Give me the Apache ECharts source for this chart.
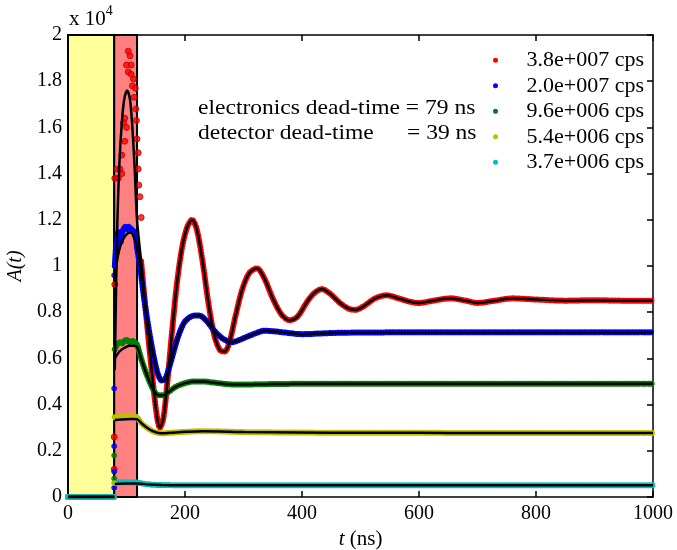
<!DOCTYPE html>
<html>
<head>
<meta charset="utf-8">
<script src="https://cdn.jsdelivr.net/npm/echarts/dist/echarts.min.js"></script>
<style>
  html, body { margin: 0; padding: 0; background: #fff; }
  #main { width: 677px; height: 550px; }
</style>
</head>
<body>
<div id="main"></div>
<script>
// series names (count rates)
var names = ['3.8e+007 cps', '2.0e+007 cps', '9.6e+006 cps', '5.4e+006 cps', '3.7e+006 cps'];
var colors = ['#ff0000', '#0000ff', '#008000', '#bfbf00', '#00bfbf'];

// fitted curves, [t (ns), A (x10^4)]
var redFit = [[0,0],[79,0],[80,0.55],[84,1.15],[88,1.45],[92,1.62],[96,1.72],[101,1.76],[106,1.72],[110,1.6],[114,1.42],[118,1.2],[125,1.02],[135,0.75],[145,0.5],[152,0.35],[157,0.30],[163,0.34],[170,0.5],[178,0.72],[186,0.92],[195,1.08],[204,1.17],[212,1.2],[220,1.16],[230,1.02],[240,0.84],[250,0.70],[260,0.635],[268,0.63],[276,0.67],[286,0.78],[298,0.9],[310,0.97],[323,0.99],[335,0.95],[350,0.86],[365,0.79],[379,0.765],[392,0.78],[410,0.85],[422,0.885],[434,0.90],[448,0.88],[465,0.84],[480,0.815],[491,0.81],[505,0.825],[525,0.86],[545,0.873],[565,0.86],[585,0.845],[600,0.84],[625,0.85],[653,0.86],[680,0.85],[700,0.84],[730,0.85],[760,0.86],[800,0.855],[850,0.85],[900,0.852],[950,0.85],[1000,0.85]];
var blueFit = [[0,0],[79,0],[80,0.95],[85,1.04],[90,1.09],[95,1.12],[101,1.14],[107,1.145],[112,1.13],[118,1.08],[124,0.98],[130,0.86],[136,0.76],[142,0.67],[148,0.59],[154,0.53],[160,0.505],[166,0.51],[174,0.57],[184,0.66],[192,0.72],[200,0.76],[212,0.783],[224,0.786],[236,0.765],[250,0.72],[265,0.685],[280,0.67],[295,0.682],[312,0.70],[337,0.72],[360,0.715],[400,0.705],[450,0.71],[500,0.712],[600,0.713],[700,0.713],[800,0.713],[900,0.713],[1000,0.713]];
var greenFit = [[0,0],[79,0],[80,0.6],[88,0.63],[96,0.645],[105,0.655],[112,0.655],[118,0.65],[125,0.6],[133,0.54],[141,0.49],[148,0.455],[155,0.44],[163,0.44],[172,0.455],[185,0.478],[200,0.493],[215,0.5],[230,0.5],[250,0.495],[275,0.488],[300,0.487],[350,0.489],[400,0.49],[500,0.49],[600,0.49],[700,0.49],[800,0.49],[900,0.49],[1000,0.49]];
var yellowFit = [[0,0],[79,0],[80,0.333],[90,0.335],[100,0.337],[110,0.338],[118,0.337],[126,0.318],[135,0.300],[145,0.285],[155,0.277],[162,0.276],[175,0.278],[200,0.282],[230,0.285],[260,0.284],[300,0.281],[400,0.279],[500,0.278],[600,0.278],[700,0.277],[800,0.277],[900,0.277],[1000,0.277]];
var cyanFit = [[0,0],[79,0],[80,0.056],[100,0.058],[118,0.058],[140,0.054],[160,0.052],[200,0.051],[300,0.051],[500,0.051],[700,0.051],[1000,0.051]];

// measured points inside the detector dead-time window
var redWin = [[80,0.92],[80,1.38],[84,1.42],[86,1.38],[89,1.42],[92,1.40],[92,1.48],[95,1.62],[97,1.54],[97,1.64],[100,1.60],[100,1.87],[103,1.84],[103,1.93],[106,1.91],[108,1.87],[108,1.83],[110,1.78],[112,1.81],[113,1.73],[115,1.77],[116,1.68],[117,1.63],[118,1.55],[120,1.49],[120,1.42],[121,1.35],[123,1.30],[125,1.21]];
var blueWin = [[80,1.0],[82,1.08],[84,1.12],[86,1.15],[88,1.13],[90,1.1],[92,1.14],[95,1.16],[98,1.17],[101,1.16],[104,1.17],[108,1.16],[112,1.15],[116,1.12],[118,1.08]];
var greenWin = [[80,0.64],[84,0.66],[88,0.67],[92,0.665],[96,0.675],[100,0.68],[105,0.67],[110,0.675],[114,0.67],[118,0.66]];
var yellowWin = [[80,0.345],[86,0.35],[92,0.348],[98,0.352],[104,0.35],[110,0.35],[118,0.345]];
var cyanWin = [[80,0.062],[90,0.064],[100,0.064],[110,0.063],[118,0.062]];

// points on the rising edge
var redEdge = [[79,0.26],[79,0.12]];
var blueEdge = [[79,0.96],[79,0.47],[79,0.22],[79,0.11],[79,0.04]];
var greenEdge = [[79,0.18],[79,0.08]];
var yellowEdge = [[79,0.06]];

var elecDead = 79, detDead = 39;
var font = 'Liberation Serif';

var fits = [redFit, blueFit, greenFit, yellowFit, cyanFit];
var wins = [null, blueWin, greenWin, yellowWin, cyanWin];
var edges = [redEdge.concat(redWin), blueEdge, greenEdge, yellowEdge, []];

var gap = [[elecDead + 0.5, '-']];
function pre(fit) { return fit.filter(function (p) { return p[0] <= elecDead; }); }
function band(fit, win) {
  if (win) {
    var post = fit.filter(function (p) { return p[0] > elecDead + detDead; });
    return pre(fit).concat(gap, win, post);
  }
  return pre(fit).concat(gap, fit.filter(function (p) { return p[0] >= 125; }));
}
function fitLine(fit) {
  return pre(fit).concat(gap, fit.filter(function (p) { return p[0] > elecDead; }));
}

var series = [{
  type: 'line', data: [], z: 1, silent: true,
  markArea: {
    silent: true,
    itemStyle: { borderColor: '#000', borderWidth: 2 },
    data: [
      [{ xAxis: 0, itemStyle: { color: '#ffff99' } }, { xAxis: elecDead }],
      [{ xAxis: elecDead, itemStyle: { color: '#ff8080' } }, { xAxis: elecDead + detDead }]
    ]
  }
}];

for (var i = 0; i < 5; i++) {
  series.push({
    name: names[i], type: 'line', z: 2, smooth: 0.3,
    showSymbol: false, connectNulls: false,
    data: band(fits[i], wins[i]),
    itemStyle: { color: colors[i] },
    lineStyle: { color: colors[i], width: 6, type: [0.5, 2.5], cap: 'round' }
  });
}
for (var i = 0; i < 5; i++) {
  if (!edges[i].length) continue;
  series.push({
    type: 'scatter', z: 3, data: edges[i], symbolSize: i == 0 ? 6 : 5,
    itemStyle: { color: colors[i], borderColor: i == 0 ? '#c00000' : colors[i], borderWidth: 1 }
  });
}
for (var i = 0; i < 5; i++) {
  series.push({
    type: 'line', z: 4, smooth: 0.3, showSymbol: false, connectNulls: false,
    data: fitLine(fits[i]), lineStyle: { color: '#000', width: 2.5 }, itemStyle: { color: '#000' }
  });
}

function axisLine() { return { show: true, onZero: false, lineStyle: { color: '#000', width: 1.5 } }; }
function axisTick() { return { show: true, inside: true, length: 6, lineStyle: { color: '#000', width: 1.5 } }; }

var myChart = echarts.init(document.getElementById('main'));
option = {
  animation: false,
  textStyle: { fontFamily: font },
  grid: { left: 68, right: 24, top: 35, bottom: 53, containLabel: false, outerBoundsMode: 'none' },
  xAxis: [{
    type: 'value', min: 0, max: 1000, interval: 200,
    axisLine: axisLine(), axisTick: axisTick(), splitLine: { show: false },
    axisLabel: { color: '#000', fontSize: 20, fontFamily: font, margin: 7,
      formatter: function (v) { return String(v); } },
    name: '{i|t} (ns)', nameLocation: 'middle', nameGap: 25,
    nameTextStyle: { color: '#000', fontSize: 21, fontFamily: font,
      rich: { i: { fontStyle: 'italic', fontSize: 21, fontFamily: font } } }
  }, {
    type: 'value', position: 'top', min: 0, max: 1000, interval: 200,
    axisLine: axisLine(), axisTick: axisTick(), axisLabel: { show: false }, splitLine: { show: false }
  }],
  yAxis: [{
    type: 'value', min: 0, max: 2, interval: 0.2,
    axisLine: axisLine(), axisTick: axisTick(), splitLine: { show: false },
    axisLabel: { color: '#000', fontSize: 20, fontFamily: font, margin: 6,
      formatter: function (v) { return String(+v.toFixed(1)); } },
    name: 'A(t)', nameLocation: 'middle', nameGap: 35, nameRotate: 90,
    nameTextStyle: { color: '#000', fontSize: 20, fontFamily: font, fontStyle: 'italic' }
  }, {
    type: 'value', position: 'right', min: 0, max: 2, interval: 0.2,
    axisLine: axisLine(), axisTick: axisTick(), axisLabel: { show: false }, splitLine: { show: false }
  }],
  legend: {
    data: names, orient: 'vertical', left: 488, top: 44,
    icon: 'circle', itemWidth: 36, itemHeight: 5, itemGap: 3, symbolKeepAspect: true,
    textStyle: { color: '#000', fontSize: 22, fontFamily: font, lineHeight: 22.5, padding: [0, 0, 0, 8] }
  },
  graphic: [
    { type: 'text', left: 69, top: 4, style: { text: '{a|x 10}{s|4}', fill: '#000',
      rich: { a: { fontSize: 21, fontFamily: font, verticalAlign: 'bottom' },
              s: { fontSize: 14, fontFamily: font, verticalAlign: 'top', padding: [0, 0, 12, 0] } } } },
    { type: 'text', x: 198, y: 108, scaleX: 1.07, style: { text: 'electronics dead-time = ' + elecDead + ' ns', fontSize: 22, fontFamily: font, fill: '#000', verticalAlign: 'middle' } },
    { type: 'text', x: 198, y: 133, scaleX: 1.07, style: { text: 'detector dead-time', fontSize: 22, fontFamily: font, fill: '#000', verticalAlign: 'middle' } },
    { type: 'text', x: 407, y: 133, scaleX: 1.07, style: { text: '= ' + detDead + ' ns', fontSize: 22, fontFamily: font, fill: '#000', verticalAlign: 'middle' } }
  ],
  series: series
};
option && myChart.setOption(option);
</script>
</body>
</html>
